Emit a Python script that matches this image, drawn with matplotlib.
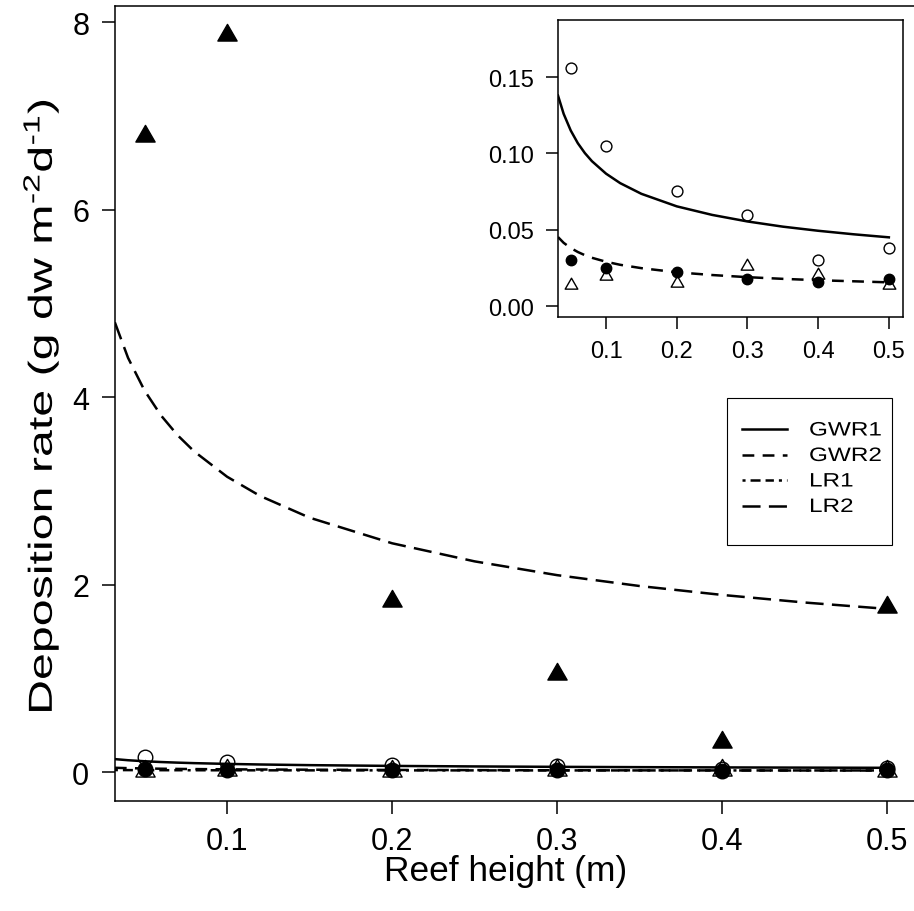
import matplotlib
matplotlib.use('Agg')
import matplotlib.pyplot as plt
import matplotlib.patheffects as pe
from matplotlib.transforms import Affine2D
from matplotlib.path import Path
from matplotlib.lines import Line2D
from matplotlib.patches import Rectangle

plt.rcParams['font.family'] = ['Liberation Sans', 'DejaVu Sans']
plt.rcParams['mathtext.fontset'] = 'custom'
plt.rcParams['mathtext.rm'] = 'Liberation Sans'
plt.rcParams['mathtext.it'] = 'Liberation Sans:italic'
plt.rcParams['mathtext.bf'] = 'Liberation Sans:bold'
plt.rcParams['lines.scale_dashes'] = False

# ---------------- data ----------------
reef_height = [0.05, 0.1, 0.2, 0.3, 0.4, 0.5]
gwr1_obs = [0.156, 0.105, 0.0753, 0.0597, 0.030, 0.038]
gwr2_obs = [0.030, 0.025, 0.022, 0.0177, 0.016, 0.018]
lr1_obs = [0.0138, 0.0197, 0.015, 0.026, 0.020, 0.0138]
lr2_obs = [6.78, 7.86, 1.82, 1.05, 0.32, 1.76]

curve_x = [0.032, 0.04, 0.05, 0.06, 0.07, 0.08, 0.1, 0.12, 0.15,
           0.2, 0.25, 0.3, 0.35, 0.4, 0.45, 0.5]
gwr1_fit = [0.1379, 0.1259, 0.1150, 0.1067, 0.1002, 0.0949, 0.0867, 0.0805,
            0.0735, 0.0653, 0.0597, 0.0554, 0.0520, 0.0493, 0.0470, 0.0450]
gwr2_fit = [0.0452, 0.0414, 0.0380, 0.0354, 0.0333, 0.0316, 0.0290, 0.0270,
            0.0248, 0.0221, 0.0203, 0.0189, 0.0178, 0.0169, 0.0162, 0.0155]
lr1_fit = [0.0210, 0.0205, 0.0200, 0.0195, 0.0192, 0.0190, 0.0186, 0.0183,
           0.0180, 0.0177, 0.0175, 0.0173, 0.0171, 0.0170, 0.0169, 0.0168]
lr2_fit = [4.797, 4.418, 4.069, 3.803, 3.593, 3.421, 3.150, 2.945,
           2.713, 2.440, 2.247, 2.100, 1.984, 1.889, 1.808, 1.740]

series_names = ['GWR1', 'GWR2', 'LR1', 'LR2']

main_xticks = [0.1, 0.2, 0.3, 0.4, 0.5]
main_yticks = [0, 2, 4, 6, 8]
inset_yticks = [0.00, 0.05, 0.10, 0.15]

# ---------------- helpers ----------------
class Stretch(pe.AbstractPathEffect):
    """Draw a text stretched by (sx, sy) about its anchor point."""
    def __init__(self, text, sx=1.0, sy=1.0):
        super().__init__()
        self.text, self.sx, self.sy = text, sx, sy

    def draw_path(self, renderer, gc, tpath, affine, rgbFace=None):
        cx, cy = self.text.get_transform().transform(self.text.get_position())
        st = Affine2D().translate(-cx, -cy).scale(self.sx, self.sy).translate(cx, cy)
        renderer.draw_path(gc, tpath, affine + st, rgbFace)


W, H = 914, 912
fig = plt.figure(figsize=(W / 100, H / 100), dpi=100)

tri = Path([(-1, -0.57735), (1, -0.57735), (0, 1.1547), (-1, -0.57735)],
           [Path.MOVETO, Path.LINETO, Path.LINETO, Path.CLOSEPOLY])

LW = 1.8
styles = {
    'GWR1': dict(color='black', lw=LW, linestyle='-'),
    'GWR2': dict(color='black', lw=LW, linestyle=(0, (8.5, 6))),
    'LR1': dict(color='black', lw=LW,
                linestyle=(0, (2.2, 3.6, 7.2, 3.6, 6, 3.6))),
    'LR2': dict(color='black', lw=LW, linestyle=(0, (13, 6))),
}

def style_axis(ax, fs, ticklen, padx, pady):
    for s in ax.spines.values():
        s.set_linewidth(1.1)
    ax.tick_params(axis='both', direction='out', length=ticklen, width=1.1,
                   labelsize=fs)
    ax.tick_params(axis='x', pad=padx)
    ax.tick_params(axis='y', pad=pady)

# ---------------- main axes ----------------
ax = fig.add_axes([115 / W, 1 - 802 / H, (917 - 115) / W, 795 / H])
ax.plot(curve_x, lr2_fit, **styles['LR2'])
ax.plot(curve_x, lr1_fit, **styles['LR1'])
ax.plot(curve_x, gwr2_fit, **styles['GWR2'])
ax.plot(curve_x, gwr1_fit, **styles['GWR1'])

ax.plot(reef_height, gwr1_obs, linestyle='none', marker='o', ms=10.5,
        mfc='none', mec='black', mew=1.0)
ax.plot(reef_height, lr1_obs, linestyle='none', marker=tri, ms=16,
        mfc='none', mec='black', mew=1.0)
ax.plot(reef_height, gwr2_obs, linestyle='none', marker='o', ms=10.5,
        mfc='black', mec='black', mew=1.0)
ax.plot(reef_height, lr2_obs, linestyle='none', marker=tri, ms=16,
        mfc='black', mec='black', mew=1.0)

ax.set_xlim(0.0321, 0.518)
ax.set_ylim(-0.309, 8.171)
ax.set_xticks(main_xticks)
ax.set_xticklabels([f'{v:.1f}' for v in main_xticks])
ax.set_yticks(main_yticks)
ax.set_yticklabels([f'{v:d}' for v in main_yticks])
style_axis(ax, 22, 9.5, 8.5, 9)

ax.set_xlabel('Reef height (m)', fontsize=25.4, va='baseline')
ax.xaxis.set_label_coords((506 - 115) / 802, (802 - 881) / 795)

ylab = ax.set_ylabel('Deposition rate (g dw m$^{\u20102}$d$^{\u20101}$)',
                     fontsize=24, ha='center', va='center',
                     rotation_mode='default')
ax.yaxis.set_label_coords((41 - 115) / 802, (802 - 407) / 795)
ylab.set_path_effects([Stretch(ylab, 1.0, 1.45)])

# ---------------- inset ----------------
ins = fig.add_axes([558 / W, 1 - 318 / H, 345 / W, 297 / H])
ins.plot(reef_height, gwr1_obs, linestyle='none', marker='o', ms=7.8,
         mfc='none', mec='black', mew=1.0)
ins.plot(reef_height, lr1_obs, linestyle='none', marker=tri, ms=10.5,
         mfc='none', mec='black', mew=1.0)
ins.plot(reef_height, gwr2_obs, linestyle='none', marker='o', ms=7.5,
         mfc='black', mec='black', mew=1.0)
ins.plot(reef_height, lr2_obs, linestyle='none', marker=tri, ms=10.5,
         mfc='black', mec='black', mew=1.0)
ins.plot(curve_x, gwr1_fit, **styles['GWR1'])
ins.plot(curve_x, gwr2_fit, **styles['GWR2'])
ins.set_xlim(0.032, 0.52)
ins.set_ylim(-0.0072, 0.1874)
ins.set_xticks(main_xticks)
ins.set_xticklabels([f'{v:.1f}' for v in main_xticks])
ins.set_yticks(inset_yticks)
ins.set_yticklabels([f'{v:.2f}' for v in inset_yticks])
style_axis(ins, 17, 8.6, 8, 9)

# ---------------- legend ----------------
fig.add_artist(Rectangle((727 / W, 1 - 546 / H), 165 / W, 147 / H,
                         transform=fig.transFigure, fill=False,
                         edgecolor='black', lw=0.8))
row_y = [430, 455.5, 481, 506.5]
for name, yy in zip(series_names, row_y):
    st = dict(styles[name])
    fig.add_artist(Line2D([742 / W, 787 / W], [1 - yy / H, 1 - yy / H],
                          transform=fig.transFigure, **st))
    t = fig.text(809 / W, 1 - yy / H, name, fontsize=14, ha='left',
                 va='center_baseline')
    t.set_path_effects([Stretch(t, 1.25, 1.0)])

fig.savefig('out.png', dpi=100)
